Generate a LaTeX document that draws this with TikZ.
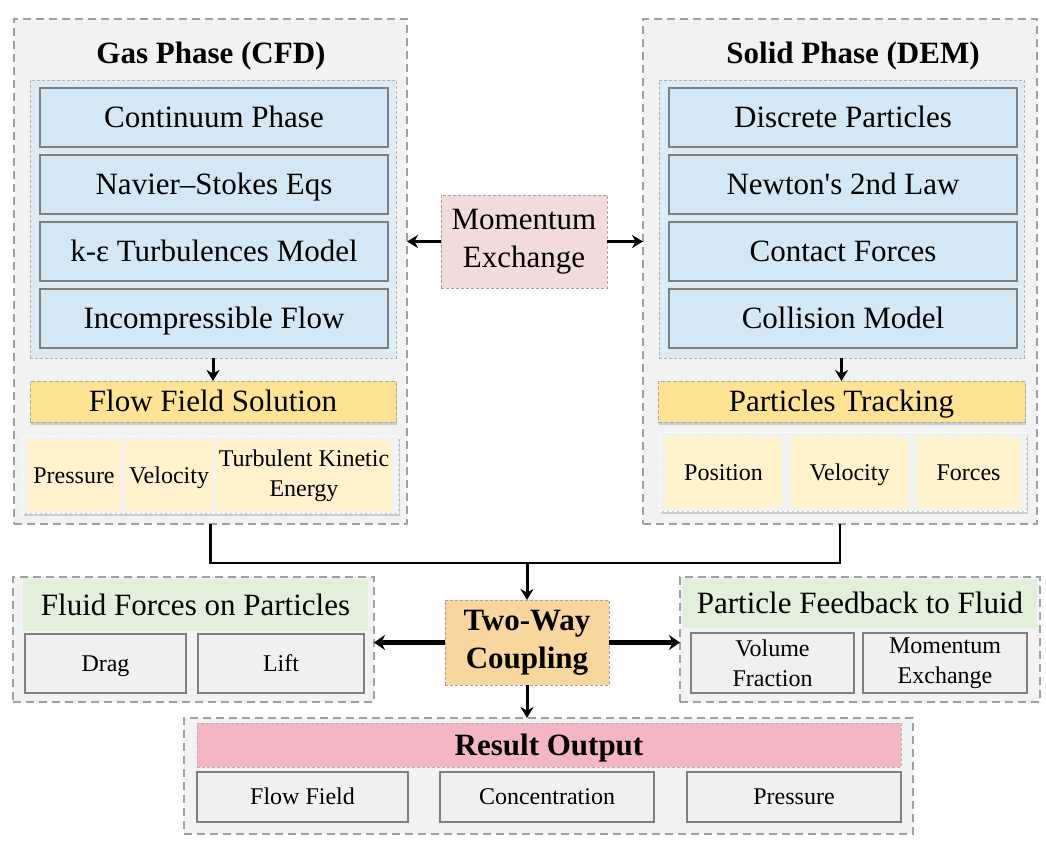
\documentclass[tikz,border=0pt]{standalone}
\usepackage{fontspec}
\setmainfont{Liberation Serif}
\newfontfamily\tnr{Liberation Serif}
\usetikzlibrary{arrows.meta,shadows}
\definecolor{outerfill}{HTML}{F2F2F2}
\definecolor{outerdraw}{HTML}{A0A0A0}
\definecolor{bluein}{HTML}{DCEBF6}
\definecolor{bluebox}{HTML}{D3E7F4}
\definecolor{boxdraw}{HTML}{7F7F7F}
\definecolor{yellowhdr}{HTML}{FFE394}
\definecolor{yellowcell}{HTML}{FFF2CC}
\definecolor{pinkbox}{HTML}{F2DCDB}
\definecolor{orangebox}{HTML}{F9D69E}
\definecolor{greenhdr}{HTML}{E2EFDA}
\definecolor{pinkhdr}{HTML}{F4B6C2}
\definecolor{graycell}{HTML}{F0F0F0}
\tikzset{
  base/.style={rectangle, inner sep=0pt, outer sep=0pt, anchor=north west, align=center},
  sl/.style={text height=20.5pt, text depth=0pt},
  slc/.style={text height=15.8pt, text depth=0pt},
  outerbox/.style={base, draw=outerdraw, fill=outerfill, line width=1.8pt, dash pattern=on 8pt off 5pt},
  innerbox/.style={base, draw=outerdraw!80, fill=bluein, line width=0.6pt, dash pattern=on 3pt off 2pt},
  bluecell/.style={base, sl, draw=boxdraw, fill=bluebox, line width=1.3pt, font=\tnr\fontsize{31}{37}\selectfont},
  yhdr/.style={base, sl, draw=outerdraw!90, fill=yellowhdr, line width=0.8pt, dash pattern=on 4pt off 2pt, font=\tnr\fontsize{31}{37}\selectfont, drop shadow={shadow xshift=1pt, shadow yshift=-2.5pt, opacity=0.35}},
  cellgroup/.style={base, draw=white, fill=outerfill, line width=1pt, dash pattern=on 3pt off 2pt, drop shadow={shadow xshift=1.5pt, shadow yshift=-2.5pt, opacity=0.35}},
  ycell/.style={base, fill=yellowcell, font=\tnr\fontsize{24}{30}\selectfont},
  titletext/.style={sl, inner sep=0pt, font=\tnr\bfseries\fontsize{31}{37}\selectfont},
  midbox/.style={base, draw=outerdraw, line width=0.8pt, dash pattern=on 3pt off 2pt},
  ghdr/.style={base, sl, fill=greenhdr, font=\tnr\fontsize{31}{37}\selectfont},
  gcell/.style={base, draw=boxdraw, fill=graycell, line width=1.2pt, font=\tnr\fontsize{24}{30}\selectfont},
  arr/.style={-{Stealth[length=11pt,width=13pt]}, line width=3pt, black},
  bigarr/.style={-{Stealth[length=11pt,width=15pt]}, line width=4.5pt, black},
  conn/.style={line width=2.8pt, black},
}
\begin{document}
\begin{tikzpicture}[x=1pt,y=-1pt]
\useasboundingbox (0,0) rectangle (1046,850);
% ---------- Gas phase ----------
\node[outerbox, minimum width=393pt, minimum height=505pt] (gasbox) at (14,19) {};
\node[titletext] (gastitle) at (211,53) {Gas Phase (CFD)};
\node[innerbox, minimum width=366pt, minimum height=278pt] (gasin) at (30,80) {};
\node[bluecell, minimum width=348pt, minimum height=59pt] (g1) at (40,88) {Continuum Phase};
\node[bluecell, minimum width=348pt, minimum height=59pt] (g2) at (40,155) {Navier–Stokes Eqs};
\node[bluecell, minimum width=348pt, minimum height=59pt] (g3) at (40,222) {k-ε Turbulences Model};
\node[bluecell, minimum width=348pt, minimum height=59pt] (g4) at (40,289) {Incompressible Flow};
\node[yhdr, minimum width=366pt, minimum height=41pt] (flow) at (30,381) {Flow Field Solution};
\node[cellgroup, minimum width=376pt, minimum height=77pt] (gascells) at (22,436) {};
\node[ycell, slc, minimum width=94pt, minimum height=71pt] (gpress) at (27,440) {Pressure};
\node[ycell, slc, minimum width=88pt, minimum height=71pt] (gvel) at (125,440) {Velocity};
\node[ycell, minimum width=176pt, minimum height=71pt] (gtke) at (216,440) {Turbulent Kinetic\\Energy};
\draw[arr] (gasin.south) -- (flow.north);
% ---------- Solid phase ----------
\node[outerbox, minimum width=394pt, minimum height=505pt] (solidbox) at (643,19) {};
\node[titletext] (soltitle) at (853,53) {Solid Phase (DEM)};
\node[innerbox, minimum width=365pt, minimum height=278pt] (solin) at (659,80) {};
\node[bluecell, minimum width=348pt, minimum height=59pt] (s1) at (669,88) {Discrete Particles};
\node[bluecell, minimum width=348pt, minimum height=59pt] (s2) at (669,155) {Newton's 2nd Law};
\node[bluecell, minimum width=348pt, minimum height=59pt] (s3) at (669,222) {Contact Forces};
\node[bluecell, minimum width=348pt, minimum height=59pt] (s4) at (669,289) {Collision Model};
\node[yhdr, minimum width=367pt, minimum height=41pt] (track) at (658,381) {Particles Tracking};
\node[cellgroup, minimum width=367pt, minimum height=79pt] (solcells) at (659,432) {};
\node[ycell, slc, minimum width=117pt, minimum height=71pt] (spos) at (665,437) {Position};
\node[ycell, slc, minimum width=117pt, minimum height=71pt] (svel) at (791,437) {Velocity};
\node[ycell, slc, minimum width=103pt, minimum height=71pt] (sforce) at (917,437) {Forces};
\draw[arr] (solin.south) -- (track.north);
% ---------- Momentum exchange ----------
\node[midbox, fill=pinkbox, minimum width=166pt, minimum height=93pt, font=\tnr\fontsize{31}{38}\selectfont] (mom) at (441,195) {Momentum\\Exchange};
\draw[arr] (mom.west) -- (mom.west -| gasbox.east);
\draw[arr] (mom.east) -- (mom.east -| solidbox.west);
% ---------- Two-way coupling ----------
\node[midbox, fill=orangebox, minimum width=164pt, minimum height=85pt, font=\tnr\bfseries\fontsize{31}{38}\selectfont] (twoway) at (445,600) {Two-Way\\Coupling};
\coordinate (j) at (twoway.north |- 0,563);
\draw[conn] (gasbox.south) |- (j) -| (solidbox.south);
\draw[arr] (j) -- (twoway.north);
% ---------- Fluid forces ----------
\node[outerbox, minimum width=361pt, minimum height=125pt] (fluid) at (13,577) {};
\node[ghdr, minimum width=345pt, minimum height=52pt] (fluidhdr) at (23,579) {Fluid Forces on Particles};
\node[gcell, slc, minimum width=161pt, minimum height=59pt] (drag) at (25,634) {Drag};
\node[gcell, slc, minimum width=166pt, minimum height=59pt] (lift) at (198,634) {Lift};
% ---------- Particle feedback ----------
\node[outerbox, minimum width=360pt, minimum height=125pt] (feed) at (680,577) {};
\node[ghdr, minimum width=354pt, minimum height=49pt] (feedhdr) at (683,579) {Particle Feedback to Fluid};
\node[gcell, minimum width=163pt, minimum height=60pt] (volf) at (691,633) {Volume\\Fraction};
\node[gcell, minimum width=164pt, minimum height=60pt] (momex) at (863,633) {Momentum\\Exchange};
\draw[bigarr] (twoway.west) -- (twoway.west -| fluid.east);
\draw[bigarr] (twoway.east) -- (twoway.east -| feed.west);
% ---------- Result output ----------
\node[outerbox, minimum width=729pt, minimum height=116pt] (result) at (184,718) {};
\node[base, sl, fill=pinkhdr, draw=outerdraw!80, line width=0.6pt, dash pattern=on 3pt off 2pt, minimum width=704pt, minimum height=44pt, font=\tnr\bfseries\fontsize{31}{37}\selectfont] (reshdr) at (197,723) {Result Output};
\node[gcell, slc, minimum width=211pt, minimum height=50pt] (rflow) at (197,772) {Flow Field};
\node[gcell, slc, minimum width=214pt, minimum height=50pt] (rconc) at (440,772) {Concentration};
\node[gcell, slc, minimum width=214pt, minimum height=50pt] (rpress) at (687,772) {Pressure};
\draw[arr] (twoway.south) -- (twoway.south |- result.north);
\end{tikzpicture}
\end{document}
